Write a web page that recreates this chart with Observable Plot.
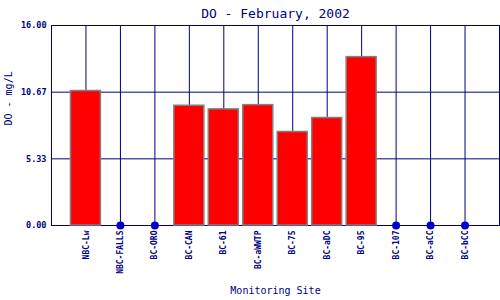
<!DOCTYPE html>
<html>
<head>
<meta charset="utf-8">
<script src="https://cdn.jsdelivr.net/npm/d3@7"></script>
<script src="https://cdn.jsdelivr.net/npm/@observablehq/plot@0.6"></script>
<style>
  html, body { margin: 0; padding: 0; background: white; }
</style>
</head>
<body>
<div id="chart"></div>
<script>
const sites = ["NBC-Lw","NBC-FALLS","BC-ORO","BC-CAN","BC-61","BC-aWWTP","BC-75","BC-aDC","BC-95","BC-107","BC-aCC","BC-bCC"];
const values = [10.76, null, null, 9.58, 9.29, 9.63, 7.48, 8.6, 13.47, null, null, null];
const yTicks = [0, 16/3, 32/3, 16];
const titleText = "DO - February, 2002";
const yLabel = "DO - mg/L";
const xLabel = "Monitoring Site";

const data = sites.map((s, i) => ({site: s, value: values[i]}));
const present = data.filter(d => d.value != null);
const missing = data.filter(d => d.value == null);

const navy = "#000080";
const font = "DejaVu Sans Mono";

const chart = Plot.plot({
  width: 500,
  height: 300,
  marginLeft: 51,
  marginRight: 1,
  marginTop: 25,
  marginBottom: 75,
  style: {fontFamily: font, color: navy, background: "white"},
  x: {type: "band", domain: sites, paddingInner: 0.13, paddingOuter: 0.565, round: false, label: null},
  y: {domain: [0, 16], label: null},
  marks: [
    Plot.gridY(yTicks, {stroke: navy, strokeOpacity: 1}),
    Plot.gridX({stroke: navy, strokeOpacity: 1}),
    Plot.frame({stroke: navy}),
    Plot.barY(present, {x: "site", y: "value", fill: "#ff0000", stroke: "#808080", strokeWidth: 1.5}),
    Plot.dot(missing, {x: "site", y: () => 0, r: 4, fill: "#0000cc", stroke: "none"}),
    Plot.axisY({ticks: yTicks, tickFormat: d => d.toFixed(2), tickSize: 0, tickPadding: 5, fontSize: 8.5, fontWeight: "bold", fill: navy, label: null}),
    Plot.axisX({tickRotate: -90, tickSize: 0, tickPadding: 5, fontSize: 8, fontWeight: "bold", fill: navy, label: null}),
    Plot.text([titleText], {frameAnchor: "top", dy: -17, fontSize: 13, fill: navy}),
    Plot.text([yLabel], {frameAnchor: "left", rotate: -90, dx: -43, fontSize: 10, fill: navy}),
    Plot.text([xLabel], {frameAnchor: "bottom", dy: 68, fontSize: 10, fill: navy})
  ]
});
document.getElementById("chart").appendChild(chart);
</script>
</body>
</html>
